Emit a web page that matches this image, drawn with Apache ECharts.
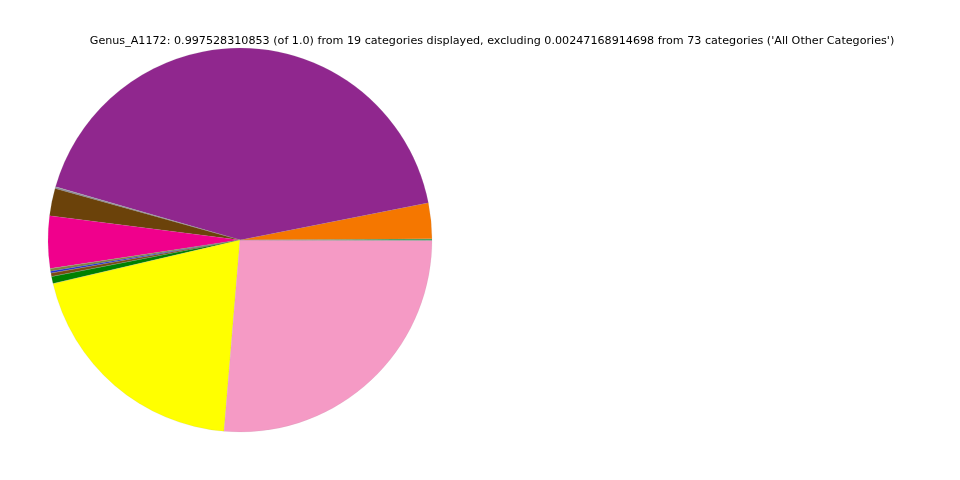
<!DOCTYPE html>
<html>
<head>
<meta charset="utf-8">
<script src="https://cdn.jsdelivr.net/npm/echarts@6/dist/echarts.min.js"></script>
<style>html,body{margin:0;padding:0;background:#fff;}#c{width:960px;height:480px;}</style>
</head>
<body>
<div id="c"></div>
<script>
const titleText = "Genus_A1172: 0.997528310853 (of 1.0) from 19 categories displayed, excluding 0.00247168914698 from 73 categories ('All Other Categories')";
const categories = ["Cat_01","Cat_02","Cat_03","Cat_04","Cat_05","Cat_06","Cat_07","Cat_08","Cat_09","Cat_10","Cat_11","Cat_12","Cat_13","Cat_14","Cat_15","Cat_16","Cat_17","Cat_18","Cat_19"];
// values in percent of the pie, counter-clockwise from 3 o'clock
const values = [0.10, 3.00, 42.45, 0.02, 0.14, 2.30, 4.40, 0.02, 0.20, 0.16, 0.02, 0.26, 0.02, 0.58, 0.03, 20.02, 26.30, 0.02, 0.02];
const colors = ["#3aa655","#f57700","#90278e","#c0c0c0","#8a8a9a","#6b420a","#f0008c","#a0a060","#808040","#2030d0","#6040a0","#7a4a10","#2e8b57","#008000","#40a040","#ffff00","#f59ac5","#20b060","#909090"];

const data = categories.map((n, i) => ({name: n, value: values[i], itemStyle: {color: colors[i]}}));
const chart = echarts.init(document.getElementById('c'));
chart.setOption({
  animation: false,
  title: {
    text: titleText,
    left: 487, top: 31, textAlign: 'center',
    textStyle: {fontFamily: 'DejaVu Sans', fontSize: 11.15, fontWeight: 'normal', color: '#000'}
  },
  series: [{
    type: 'pie',
    center: [240, 240],
    radius: [0, 192],
    startAngle: 0,
    clockwise: false,
    minAngle: 0,
    avoidLabelOverlap: false,
    label: {show: false},
    labelLine: {show: false},
    emphasis: {disabled: true},
    itemStyle: {borderColor: 'rgba(150,150,150,0.6)', borderWidth: 0.2},
    data: data
  }]
});
</script>
</body>
</html>
